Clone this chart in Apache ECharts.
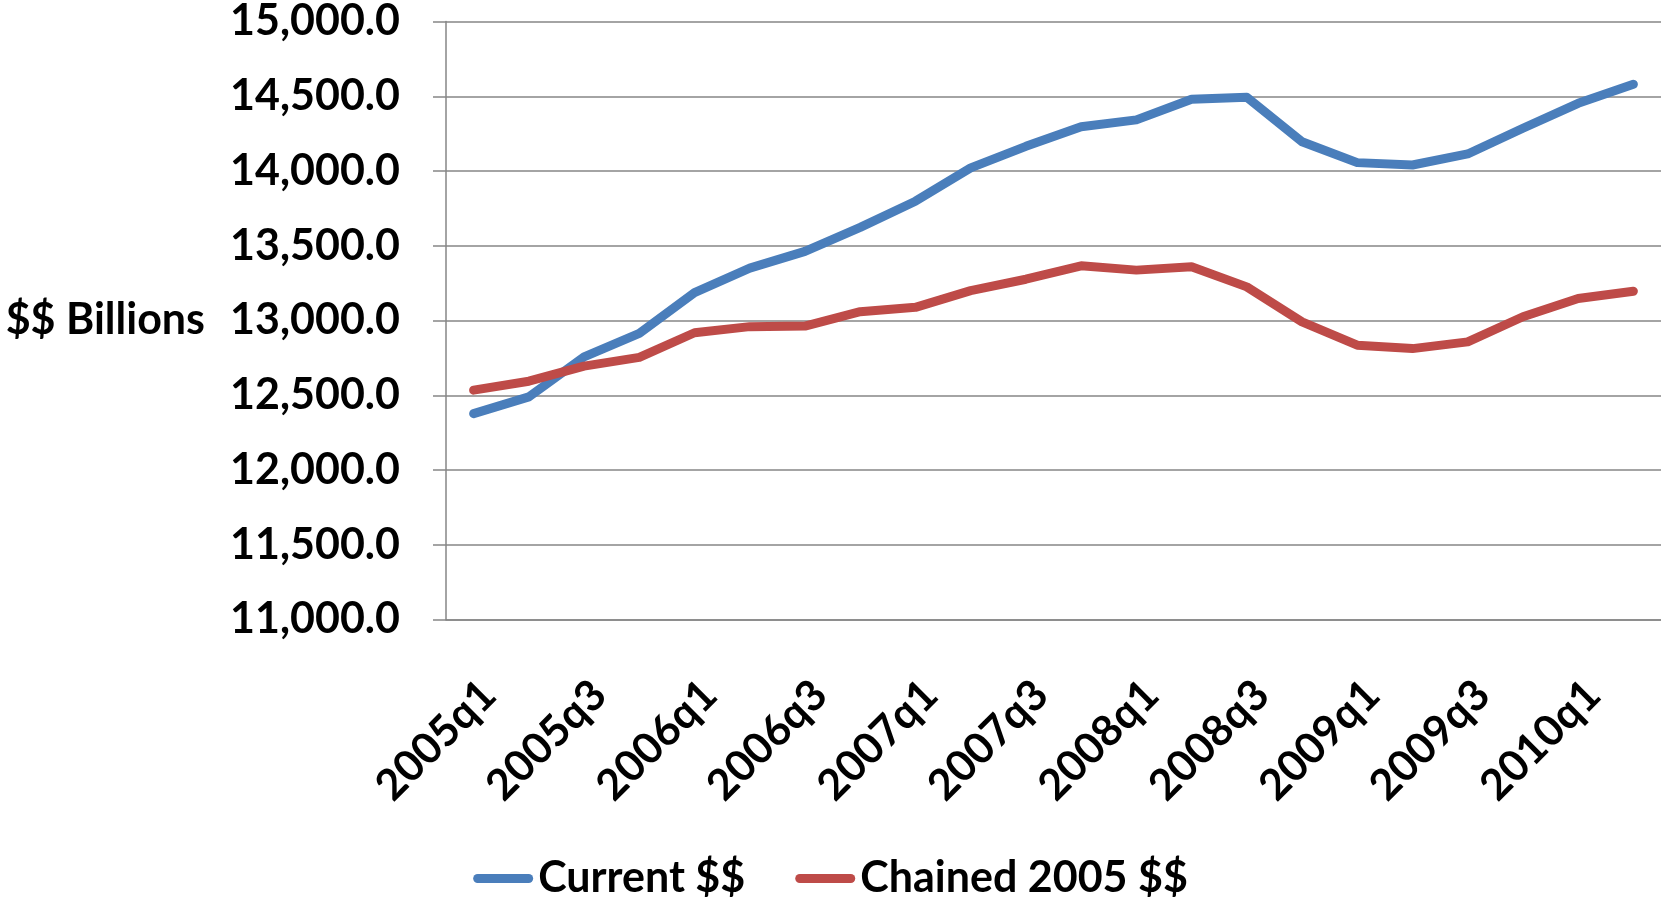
<!DOCTYPE html>
<html>
<head>
<meta charset="utf-8">
<script src="https://cdn.jsdelivr.net/npm/echarts@6/dist/echarts.min.js"></script>
<style>
  html, body { margin: 0; padding: 0; background: #fff; }
  #chart { width: 1661px; height: 898px; }
</style>
</head>
<body>
<div id="chart"></div>
<script>
const quarters = [
  '2005q1', '2005q2', '2005q3', '2005q4',
  '2006q1', '2006q2', '2006q3', '2006q4',
  '2007q1', '2007q2', '2007q3', '2007q4',
  '2008q1', '2008q2', '2008q3', '2008q4',
  '2009q1', '2009q2', '2009q3', '2009q4',
  '2010q1', '2010q2'
];
const currentDollars = [
  12377, 12489, 12757, 12914, 13187, 13350, 13462, 13623,
  13798, 14021, 14165, 14296, 14342, 14480, 14493, 14196,
  14056, 14040, 14114, 14286, 14453, 14580
];
const chainedDollars = [
  12534, 12594, 12695, 12753, 12918, 12959, 12963, 13059,
  13088, 13200, 13276, 13366, 13337, 13359, 13225, 12991,
  12835, 12812, 12857, 13025, 13147, 13196
];
const seriesNames = ['Current $$', 'Chained 2005 $$'];

const font = 'Lato, "Open Sans", sans-serif';
const gray = '#868686';
// rounded bar used as the legend swatch (thick line with round ends)
const lineIcon = 'path://M4.5,0H55.5A4.5,4.5 0 0 1 55.5,9H4.5A4.5,4.5 0 0 1 4.5,0Z';

const chart = echarts.init(document.getElementById('chart'));
chart.setOption({
  animation: false,
  grid: { left: 446, right: 0, top: 19.5, bottom: 278.5 },
  legend: {
    left: 'center',
    top: 852,
    itemWidth: 60,
    itemHeight: 9,
    itemGap: 50,
    data: seriesNames.map(name => ({ name, icon: lineIcon })),
    textStyle: { fontFamily: font, fontWeight: 'bold', fontSize: 43, color: '#000' }
  },
  xAxis: {
    type: 'category',
    data: quarters,
    boundaryGap: true,
    axisLine: { lineStyle: { color: gray, width: 1.5 } },
    axisTick: { interval: 0, length: 14, lineStyle: { color: gray, width: 1.5 } },
    axisLabel: {
      interval: 1,
      rotate: 45,
      margin: 53,
      verticalAlign: 'top',
      fontFamily: font,
      fontWeight: 'bold',
      fontSize: 43,
      color: '#000'
    }
  },
  yAxis: {
    type: 'value',
    min: 11000,
    max: 15000,
    interval: 500,
    name: '$$ Billions',
    nameLocation: 'middle',
    nameRotate: 0,
    nameGap: 241,
    nameTextStyle: { fontFamily: font, fontWeight: 'bold', fontSize: 43, color: '#000' },
    axisLine: { show: true, lineStyle: { color: gray, width: 1.5 } },
    axisTick: { show: true, length: 13, lineStyle: { color: gray, width: 1.5 } },
    splitLine: { lineStyle: { color: gray, width: 1.5 } },
    axisLabel: {
      margin: 46,
      fontFamily: font,
      fontWeight: 'bold',
      fontSize: 43,
      color: '#000',
      formatter: v => v.toLocaleString('en-US', { minimumFractionDigits: 1, maximumFractionDigits: 1 })
    }
  },
  series: [
    {
      name: seriesNames[0],
      type: 'line',
      data: currentDollars,
      symbol: 'none',
      color: '#4A7EBB',
      lineStyle: { width: 9, cap: 'round', join: 'round' }
    },
    {
      name: seriesNames[1],
      type: 'line',
      data: chainedDollars,
      symbol: 'none',
      color: '#BE4B48',
      lineStyle: { width: 9, cap: 'round', join: 'round' }
    }
  ]
});
</script>
</body>
</html>
